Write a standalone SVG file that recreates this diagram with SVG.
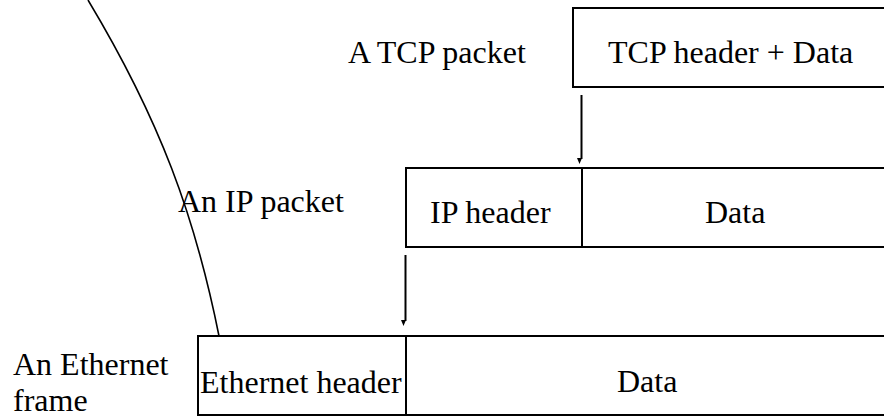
<svg xmlns="http://www.w3.org/2000/svg" width="884" height="417" viewBox="0 0 884 417">
  <style>
    .box { fill: #ffffff; stroke: #000000; stroke-width: 2; }
    .div { stroke: #000000; stroke-width: 2; }
    .lbl { font-size: 32px; fill: #000000; }
    .conn { fill: none; stroke: #000000; stroke-width: 2; }
    .head { fill: #000000; }
    .arc { fill: none; stroke: #000000; stroke-width: 1.6; }
  </style>

  <!-- layer labels -->
  <g id="labels" font-family="'Liberation Serif', serif">
    <text class="lbl" x="348" y="63">A TCP packet</text>
    <text class="lbl" x="178" y="212">An IP packet</text>
    <text class="lbl" x="13" y="375">An Ethernet</text>
    <text class="lbl" x="13" y="411">frame</text>
  </g>

  <!-- TCP segment -->
  <g id="tcp-packet" font-family="'Liberation Serif', serif">
    <rect class="box" x="573" y="8" width="330" height="79"/>
    <text class="lbl" x="608" y="63">TCP header + Data</text>
  </g>

  <!-- IP packet -->
  <g id="ip-packet" font-family="'Liberation Serif', serif">
    <rect class="box" x="406" y="168" width="500" height="79"/>
    <line class="div" x1="582" y1="168" x2="582" y2="247"/>
    <text class="lbl" x="430" y="223">IP header</text>
    <text class="lbl" x="705" y="223">Data</text>
  </g>

  <!-- Ethernet frame -->
  <g id="ethernet-frame" font-family="'Liberation Serif', serif">
    <rect class="box" x="198" y="336" width="710" height="79"/>
    <line class="div" x1="406" y1="336" x2="406" y2="415"/>
    <text class="lbl" x="200" y="393">Ethernet header</text>
    <text class="lbl" x="617" y="392">Data</text>
  </g>

  <!-- connectors -->
  <g id="connectors">
    <line class="conn" x1="581.5" y1="95" x2="581.5" y2="159"/>
    <polygon class="head" points="577,158 582,158 579.5,164"/>
    <line class="conn" x1="405.5" y1="255" x2="405.5" y2="321"/>
    <polygon class="head" points="401,320 406,320 403.5,326"/>
    <path class="arc" d="M88,0 C160,120 195,216 219,336"/>
  </g>
</svg>
